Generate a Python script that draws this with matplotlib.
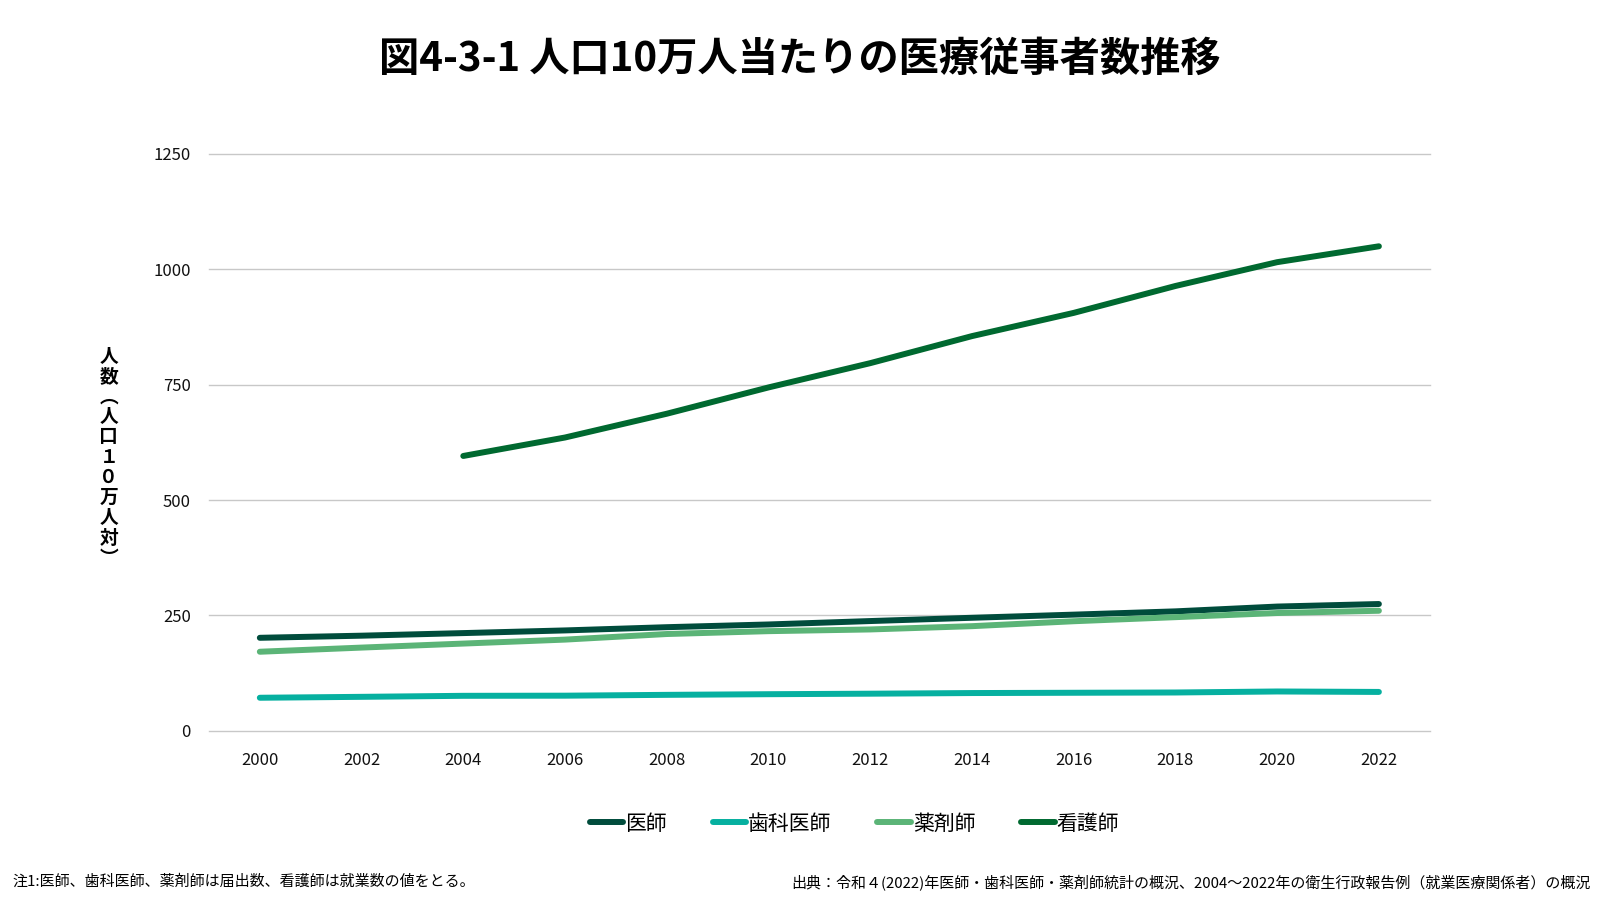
import matplotlib
matplotlib.use("Agg")
import matplotlib.pyplot as plt

plt.rcParams["font.family"] = ["Noto Sans CJK JP", "DejaVu Sans"]

# Data (人口10万人対)
years = [2000, 2002, 2004, 2006, 2008, 2010, 2012, 2014, 2016, 2018, 2020, 2022]
nurse_years = [2004, 2006, 2008, 2010, 2012, 2014, 2016, 2018, 2020, 2022]

doctors = [201.5, 206.1, 211.7, 217.5, 224.5, 230.4, 237.8, 244.9, 251.7, 258.8, 269.2, 274.7]
dentists = [71.6, 73.6, 75.8, 76.1, 77.9, 79.3, 80.4, 81.8, 82.4, 83.0, 85.2, 84.2]
pharmacists = [171.3, 180.3, 189.0, 197.6, 209.7, 215.9, 219.6, 226.7, 237.4, 246.2, 255.2, 260.1]
nurses = [595.5, 635.5, 687.0, 744.0, 796.6, 855.2, 905.5, 963.8, 1015.4, 1049.8]

yticks = [0, 250, 500, 750, 1000, 1250]

fig = plt.figure(figsize=(16, 9), dpi=100)
ax = fig.add_axes([0.1306, 0.188, 0.763, 0.641])

lw = 4.3
ax.plot(years, doctors, color="#004C3C", lw=lw, solid_capstyle="round", label="医師")
ax.plot(years, dentists, color="#06B0A0", lw=lw, solid_capstyle="round", label="歯科医師")
ax.plot(years, pharmacists, color="#5BB477", lw=lw, solid_capstyle="round", label="薬剤師")
ax.plot(nurse_years, nurses, color="#006930", lw=lw, solid_capstyle="round", label="看護師")

ax.set_xlim(1999, 2023)
ax.set_ylim(0, 1250)
ax.set_xticks(years)
ax.set_yticks(yticks)
ax.tick_params(length=0, labelsize=12, colors="#111111")
ax.tick_params(axis="x", pad=15)
ax.tick_params(axis="y", pad=13)
ax.grid(axis="y", color="#c8c8c8", linewidth=1)
for gl in ax.get_ygridlines():
    gl.set_clip_on(False)
ax.set_axisbelow(True)
for s in ax.spines.values():
    s.set_visible(False)

# Title
fig.text(0.5, 0.934, "図4-3-1 人口10万人当たりの医療従事者数推移", ha="center", va="center",
         fontsize=29, fontweight="bold")

# Vertical y label
ylab = "\n".join(list("人数︵人口１０万人対︶"))
fig.text(0.068, 0.492, ylab, ha="center", va="center", fontsize=13.5,
         fontweight="bold", linespacing=1.08)

# Legend
fig.legend(loc="center", bbox_to_anchor=(0.534, 0.085), ncol=4, frameon=False,
           fontsize=15, handlelength=1.6, handletextpad=0.1, columnspacing=2.2)

# Footnotes
fig.text(0.0075, 0.021, "注1:医師、歯科医師、薬剤師は届出数、看護師は就業数の値をとる。",
         ha="left", va="center", fontsize=10.8)
fig.text(0.994, 0.019,
         "出典：令和４(2022)年医師・歯科医師・薬剤師統計の概況、2004〜2022年の衛生行政報告例（就業医療関係者）の概況",
         ha="right", va="center", fontsize=10.8)

fig.savefig("out.png", dpi=100)
